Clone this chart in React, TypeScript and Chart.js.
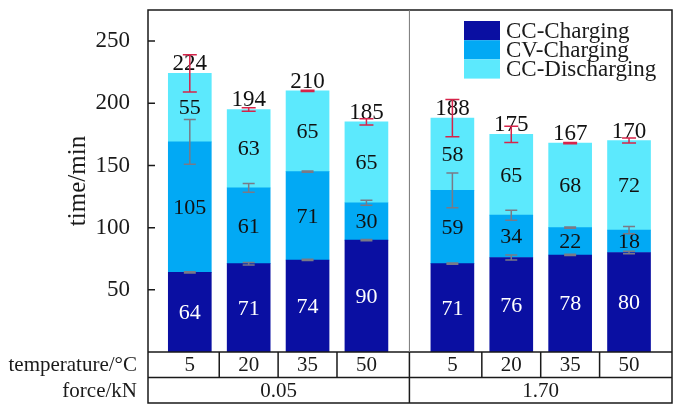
import { useEffect, useRef } from 'react'
import { Chart, registerables } from 'chart.js'

Chart.register(...registerables)

const temperatures = ['5', '20', '35', '50']
const forces = ['0.05', '1.70']
const seriesNames = ['CC-Charging', 'CV-Charging', 'CC-Discharging']

const ccCharging = [64, 71, 74, 90, 71, 76, 78, 80]
const cvCharging = [105, 61, 71, 30, 59, 34, 22, 18]
const ccDischarging = [55, 63, 65, 65, 58, 65, 68, 72]
const totals = [224, 194, 210, 185, 188, 175, 167, 170]

// error bars (± min) at the top of each stacked part
const ccChargingErr = [0.5, 1, 0.5, 0.5, 0.5, 2, 0.5, 1]
const cvChargingErr = [18, 3.5, 0.5, 2, 14, 4, 0.5, 3]
const totalErr = [15, 1.5, 0.5, 2.5, 15, 6.5, 0.5, 2]

const yTicks = [50, 100, 150, 200, 250]

const colors = ['#0a0fa2', '#02a9f4', '#5ce9fd']
const labelColors = ['#ffffff', '#111111', '#111111']
const FONT = "'Liberation Serif', 'Times New Roman', serif"
const GROUP_GAP = 0.46

const positions = forces.flatMap((_, g) =>
  temperatures.map((_, t) => g * (temperatures.length + GROUP_GAP) + t),
)

const series = [ccCharging, cvCharging, ccDischarging]

const decorPlugin = {
  id: 'decor',
  afterDatasetsDraw(chart: Chart) {
    const ctx = chart.ctx
    const yScale = chart.scales.y
    ctx.save()
    ctx.textAlign = 'center'

    // segment values
    ctx.font = `22px ${FONT}`
    series.forEach((_, i) => {
      const meta = chart.getDatasetMeta(i)
      meta.data.forEach((el: any, j: number) => {
        ctx.fillStyle = labelColors[i]
        ctx.textBaseline = 'middle'
        ctx.fillText(String(series[i][j]), el.x, (el.y + el.base) / 2 + 1)
      })
    })

    // totals
    ctx.font = `23px ${FONT}`
    const topMeta = chart.getDatasetMeta(series.length - 1)
    topMeta.data.forEach((el: any, j: number) => {
      ctx.fillStyle = '#111'
      ctx.textBaseline = 'alphabetic'
      ctx.fillText(String(totals[j]), el.x, el.y - 3)
    })

    // error bars
    const drawErr = (x: number, v: number, e: number, color: string, cap: number) => {
      const y1 = yScale.getPixelForValue(v + e)
      const y2 = yScale.getPixelForValue(v - e)
      ctx.strokeStyle = color
      ctx.lineWidth = 1.5
      ctx.beginPath()
      ctx.moveTo(x, y1)
      ctx.lineTo(x, y2)
      ctx.moveTo(x - cap / 2, y1)
      ctx.lineTo(x + cap / 2, y1)
      ctx.moveTo(x - cap / 2, y2)
      ctx.lineTo(x + cap / 2, y2)
      ctx.stroke()
    }
    topMeta.data.forEach((el: any, j: number) => {
      const cc = ccCharging[j]
      const cv = cc + cvCharging[j]
      const all = cv + ccDischarging[j]
      drawErr(el.x, cc, ccChargingErr[j], '#7a7a86', 12)
      drawErr(el.x, cv, cvChargingErr[j], '#7a7a86', 12)
      drawErr(el.x, all, totalErr[j], '#d6244a', 14)
    })
    ctx.restore()
  },
  afterDraw(chart: Chart) {
    const ctx = chart.ctx
    const { left, right, top, bottom } = chart.chartArea
    const xScale = chart.scales.x
    const yScale = chart.scales.y
    const rowH = 25.5
    const row1 = bottom + rowH
    const row2 = row1 + rowH
    const px = (v: number) => xScale.getPixelForValue(v)
    const n = temperatures.length

    ctx.save()
    ctx.strokeStyle = '#1a1a1a'
    ctx.lineWidth = 1.5

    // frame and table lines
    ctx.beginPath()
    ctx.rect(left, top, right - left, row2 - top)
    ctx.moveTo(left, bottom)
    ctx.lineTo(right, bottom)
    ctx.moveTo(left, row1)
    ctx.lineTo(right, row1)
    forces.forEach((_, g) => {
      for (let t = 1; t < n; t++) {
        const x = (px(positions[g * n + t - 1]) + px(positions[g * n + t])) / 2
        ctx.moveTo(x, bottom)
        ctx.lineTo(x, row1)
      }
      if (g > 0) {
        const x = (px(positions[g * n - 1]) + px(positions[g * n])) / 2
        ctx.moveTo(x, bottom)
        ctx.lineTo(x, row2)
      }
    })
    // y tick marks, inward
    yTicks.forEach((v) => {
      const y = yScale.getPixelForValue(v)
      ctx.moveTo(left, y)
      ctx.lineTo(left + 7, y)
    })
    ctx.stroke()

    // group divider inside the plot
    ctx.strokeStyle = '#777'
    ctx.lineWidth = 1
    ctx.beginPath()
    for (let g = 1; g < forces.length; g++) {
      const x = (px(positions[g * n - 1]) + px(positions[g * n])) / 2
      ctx.moveTo(x, top)
      ctx.lineTo(x, bottom)
    }
    ctx.stroke()

    // table text
    ctx.fillStyle = '#1a1a1a'
    ctx.font = `21px ${FONT}`
    ctx.textBaseline = 'middle'
    ctx.textAlign = 'center'
    positions.forEach((p, i) => {
      ctx.fillText(temperatures[i % n], px(p), (bottom + row1) / 2 + 1)
    })
    forces.forEach((f, g) => {
      const x0 = g === 0 ? left : (px(positions[g * n - 1]) + px(positions[g * n])) / 2
      const x1 =
        g === forces.length - 1 ? right : (px(positions[(g + 1) * n - 1]) + px(positions[(g + 1) * n])) / 2
      ctx.fillText(f, (x0 + x1) / 2, (row1 + row2) / 2 + 1)
    })
    ctx.textAlign = 'right'
    ctx.fillText('temperature/°C', left - 11, (bottom + row1) / 2 + 1)
    ctx.fillText('force/kN', left - 11, (row1 + row2) / 2 + 1)

    // legend
    const boxW = 36
    const boxH = 19.2
    const lx = right - 208
    const ly = top + 11
    ctx.font = `23px ${FONT}`
    ctx.textAlign = 'left'
    chart.data.datasets.forEach((ds: any, i: number) => {
      ctx.fillStyle = ds.backgroundColor
      ctx.fillRect(lx, ly + i * boxH, boxW, boxH)
      ctx.fillStyle = '#1a1a1a'
      ctx.fillText(ds.label, lx + boxW + 6, ly + i * boxH + boxH / 2 + 1)
    })
    ctx.restore()
  },
}

export default function App() {
  const chartRef = useRef<HTMLCanvasElement>(null)
  const chartInstance = useRef<Chart | null>(null)

  useEffect(() => {
    document.body.style.margin = '0'
    if (!chartRef.current) return
    if (chartInstance.current) chartInstance.current.destroy()
    const ctx = chartRef.current.getContext('2d')
    if (!ctx) return

    chartInstance.current = new Chart(ctx, {
      type: 'bar',
      data: {
        datasets: series.map((values, i) => ({
          label: seriesNames[i],
          data: values.map((v, j) => ({ x: positions[j], y: v })),
          backgroundColor: colors[i],
          borderWidth: 0,
          barThickness: 43,
        })),
      },
      options: {
        responsive: false,
        animation: false,
        layout: { padding: { top: 10, right: 20, bottom: 61, left: 0 } },
        plugins: {
          legend: { display: false },
          title: { display: false },
          tooltip: { enabled: false },
        },
        scales: {
          x: {
            type: 'linear',
            stacked: true,
            display: false,
            offset: false,
            min: -0.71,
            max: positions[positions.length - 1] + 0.73,
          },
          y: {
            stacked: true,
            min: 0,
            max: 275,
            grid: { display: false },
            border: { display: false },
            afterBuildTicks: (s: any) => {
              s.ticks = yTicks.map((v) => ({ value: v }))
            },
            afterFit: (s: any) => {
              s.width = 148
              s.paddingTop = 0
              s.paddingBottom = 0
            },
            ticks: {
              autoSkip: false,
              padding: 10,
              color: '#1a1a1a',
              font: { family: FONT, size: 23 },
            },
            title: {
              display: true,
              text: 'time/min',
              color: '#1a1a1a',
              font: { family: FONT, size: 25 },
              padding: { top: 63, bottom: 0 },
            },
          },
        },
      },
      plugins: [decorPlugin],
    })

    return () => {
      if (chartInstance.current) {
        chartInstance.current.destroy()
        chartInstance.current = null
      }
    }
  }, [])

  return (
    <div style={{ width: 692, height: 413, background: '#fff' }}>
      <canvas ref={chartRef} width={692} height={413} />
    </div>
  )
}
